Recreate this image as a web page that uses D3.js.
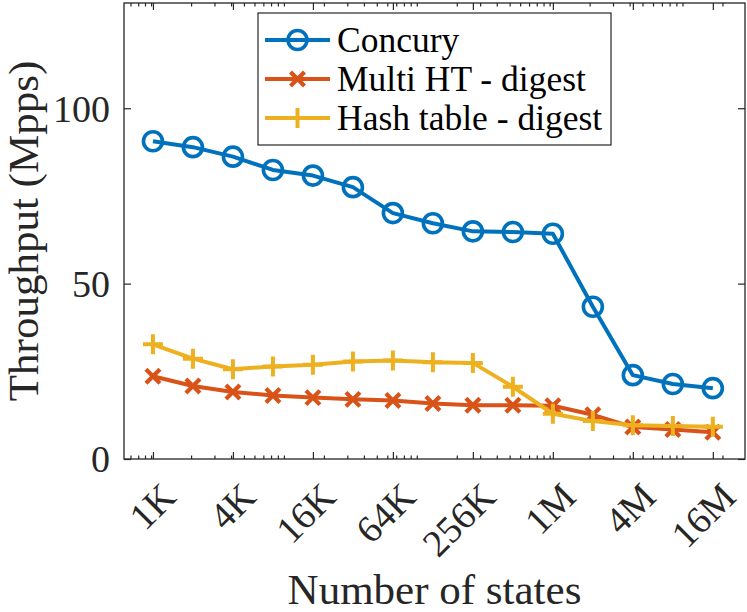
<!DOCTYPE html>
<html>
<head>
<meta charset="utf-8">
<script src="https://cdn.jsdelivr.net/npm/d3@7"></script>
</head>
<body style="margin:0">
<svg id="chart" width="747" height="612"></svg>
<script>
// table sizes (number of states) and throughput in Mpps
const states = [1024, 2048, 4096, 8192, 16384, 32768, 65536, 131072, 262144,
  524288, 1048576, 2097152, 4194304, 8388608, 16777216];
const concury = [90.6, 88.9, 86.2, 82.4, 80.8, 77.5, 70.1, 67.2, 64.9, 64.7, 64.2, 43.4, 23.9, 21.4, 20.2];
const multiHT = [23.6, 20.8, 19.1, 18.1, 17.5, 17.0, 16.7, 15.8, 15.3, 15.3, 15.2, 12.6, 9.1, 8.4, 7.6];
const hashTable = [32.7, 28.6, 25.6, 26.4, 26.9, 27.8, 28.1, 27.6, 27.4, 20.6, 12.9, 10.8, 9.6, 9.4, 9.2];

const xTicks = [1024, 4096, 16384, 65536, 262144, 1048576, 4194304, 16777216];
const xTickLabels = ['1K', '4K', '16K', '64K', '256K', '1M', '4M', '16M'];
const yTicks = [0, 50, 100];

const seriesNames = ['Concury', 'Multi HT - digest', 'Hash table - digest'];
const seriesColors = ['#0072BD', '#D95319', '#EDB120'];
const seriesMarkers = ['circle', 'x', 'plus'];

const FONT = 'Liberation Serif';
const axisColor = '#262626';
const margin = { top: 3, right: 2, bottom: 153, left: 124 };
const width = 747;
const height = 612;

const svg = d3.select('#chart')
  .attr('font-family', FONT);
const x = d3.scaleLog().base(2)
  .domain([620, 2.93e7])
  .range([margin.left, width - margin.right]);
const y = d3.scaleLinear()
  .domain([0, 130])
  .range([height - margin.bottom, margin.top]);

const [x0, x1] = x.range();
const [y0, y1] = y.range();

// base-10 minor ticks, like MATLAB log axes
const minorTicks = [];
for (let p = 2; p <= 7; p++) {
  for (let k = 1; k <= 9; k++) {
    const v = k * Math.pow(10, p);
    if (v > x.domain()[0] && v < x.domain()[1]) minorTicks.push(v);
  }
}

const axes = svg.append('g').attr('class', 'axis');

// minor ticks, bottom and top
axes.selectAll('.minor-b')
  .data(minorTicks)
  .enter().append('line')
    .attr('x1', d => x(d)).attr('x2', d => x(d))
    .attr('y1', y0).attr('y2', y0 - 3.5)
    .attr('stroke', axisColor).attr('stroke-width', 1.2);
axes.selectAll('.minor-t')
  .data(minorTicks)
  .enter().append('line')
    .attr('x1', d => x(d)).attr('x2', d => x(d))
    .attr('y1', y1).attr('y2', y1 + 3.5)
    .attr('stroke', axisColor).attr('stroke-width', 1.2);

// X axis: major ticks inward, labels drawn separately
const gx = axes.append('g')
  .attr('transform', `translate(0, ${y0})`)
  .call(d3.axisBottom(x).tickValues(xTicks).tickFormat('').tickSizeInner(-7).tickSizeOuter(0));
gx.select('.domain').remove();
gx.selectAll('line').attr('stroke', axisColor).attr('stroke-width', 1.2);

axes.selectAll('.x-label')
  .data(xTicks)
  .enter().append('text')
    .attr('class', 'x-label')
    .attr('text-anchor', 'end')
    .attr('font-family', FONT)
    .attr('font-size', 38)
    .attr('fill', axisColor)
    .attr('transform', d => `translate(${x(d) + 25}, ${y0 + 40}) rotate(-45)`)
    .text((d, i) => xTickLabels[i]);

// top ticks
const gxTop = axes.append('g')
  .attr('transform', `translate(0, ${y1})`)
  .call(d3.axisTop(x).tickValues(xTicks).tickFormat('').tickSizeInner(-7).tickSizeOuter(0));
gxTop.select('.domain').remove();
gxTop.selectAll('line').attr('stroke', axisColor).attr('stroke-width', 1.2);

// Y axis
const gy = axes.append('g')
  .attr('transform', `translate(${x0}, 0)`)
  .call(d3.axisLeft(y).tickValues(yTicks).tickFormat('').tickSizeInner(-7).tickSizeOuter(0));
gy.select('.domain').remove();
gy.selectAll('line').attr('stroke', axisColor).attr('stroke-width', 1.2);

axes.selectAll('.y-label')
  .data(yTicks)
  .enter().append('text')
    .attr('class', 'y-label')
    .attr('text-anchor', 'end')
    .attr('font-family', FONT)
    .attr('font-size', 38)
    .attr('fill', axisColor)
    .attr('x', x0 - 14)
    .attr('y', d => y(d))
    .attr('dy', '0.35em')
    .text(d => d);

const gyRight = axes.append('g')
  .attr('transform', `translate(${x1}, 0)`)
  .call(d3.axisRight(y).tickValues(yTicks).tickFormat('').tickSizeInner(-7).tickSizeOuter(0));
gyRight.select('.domain').remove();
gyRight.selectAll('line').attr('stroke', axisColor).attr('stroke-width', 1.2);

// box
axes.append('rect')
  .attr('x', x0).attr('y', y1)
  .attr('width', x1 - x0).attr('height', y0 - y1)
  .attr('fill', 'none')
  .attr('stroke', axisColor)
  .attr('stroke-width', 1.3);

// Axis titles
svg.append('text')
  .attr('x', (x0 + x1) / 2)
  .attr('y', 604)
  .attr('text-anchor', 'middle')
  .attr('font-family', FONT)
  .attr('font-size', 43)
  .attr('fill', axisColor)
  .text('Number of states');
svg.append('text')
  .attr('transform', `translate(38, ${(y0 + y1) / 2}) rotate(-90)`)
  .attr('text-anchor', 'middle')
  .attr('font-family', FONT)
  .attr('font-size', 43)
  .attr('fill', axisColor)
  .text('Throughput (Mpps)');

// marker drawing
function drawMarker(sel, type, color) {
  if (type === 'circle') {
    sel.append('circle')
      .attr('r', 9.5)
      .attr('fill', 'none')
      .attr('stroke', color)
      .attr('stroke-width', 3.6);
  } else if (type === 'x') {
    sel.append('path')
      .attr('d', 'M-7,-7L7,7M-7,7L7,-7')
      .attr('stroke', color)
      .attr('stroke-width', 4.2)
      .attr('fill', 'none');
  } else {
    sel.append('path')
      .attr('d', 'M-10,0L10,0M0,-10L0,10')
      .attr('stroke', color)
      .attr('stroke-width', 4)
      .attr('fill', 'none');
  }
}

const line = d3.line()
  .x((d, i) => x(states[i]))
  .y(d => y(d));

const allSeries = [concury, multiHT, hashTable];
allSeries.forEach((values, si) => {
  const g = svg.append('g').attr('class', 'series');
  g.append('path')
    .datum(values)
    .attr('d', line)
    .attr('fill', 'none')
    .attr('stroke', seriesColors[si])
    .attr('stroke-width', 4)
    .attr('stroke-linejoin', 'round');
  g.selectAll('.marker')
    .data(values)
    .enter().append('g')
      .attr('class', 'marker')
      .attr('transform', (d, i) => `translate(${x(states[i])}, ${y(d)})`)
      .each(function() { drawMarker(d3.select(this), seriesMarkers[si], seriesColors[si]); });
});

// Legend
const legend = svg.append('g')
  .attr('class', 'legend')
  .attr('transform', 'translate(258, 13)');
legend.append('rect')
  .attr('width', 353)
  .attr('height', 132)
  .attr('fill', '#fff')
  .attr('stroke', axisColor)
  .attr('stroke-width', 1.2);
seriesNames.forEach((name, i) => {
  const row = legend.append('g')
    .attr('transform', `translate(0, ${27 + i * 39})`);
  row.append('line')
    .attr('x1', 7).attr('x2', 72)
    .attr('stroke', seriesColors[i])
    .attr('stroke-width', 4);
  const m = row.append('g').attr('transform', 'translate(39.5, 0)');
  drawMarker(m, seriesMarkers[i], seriesColors[i]);
  row.append('text')
    .attr('x', 79)
    .attr('y', 12)
    .attr('font-family', FONT)
    .attr('font-size', 35.5)
    .attr('fill', '#000')
    .text(name);
});
</script>
</body>
</html>
